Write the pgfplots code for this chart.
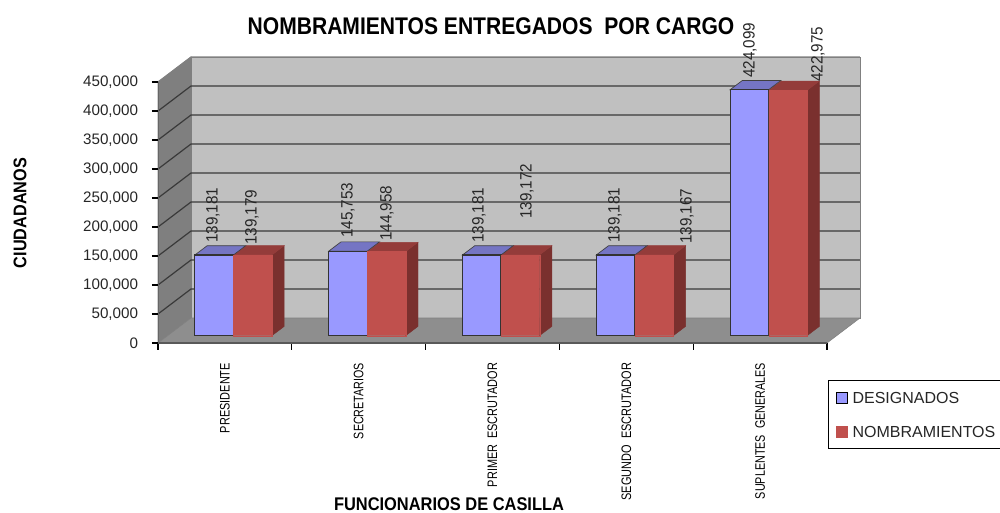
\documentclass[border=0pt]{standalone}
\usepackage{fontspec}
\setmainfont{Liberation Sans}
\usepackage{graphicx}
\usepackage{pgfplots}
\pgfplotsset{compat=1.18}
\definecolor{wallc}{HTML}{C0C0C0}
\definecolor{sidec}{HTML}{7F7F7F}
\definecolor{floorc}{HTML}{8E8E8E}
\definecolor{gridc}{HTML}{3A3A3A}
\definecolor{blu}{HTML}{9999FF}
\definecolor{blutop}{HTML}{7575C4}
\definecolor{redd}{HTML}{C0504D}
\definecolor{redtop}{HTML}{943C3A}
\definecolor{redside}{HTML}{7A302E}
\newcommand\fit[3]{\resizebox{#1pt}{#2pt}{#3}}
\begin{document}
\begin{tikzpicture}
\clip (0pt,0pt) rectangle (750pt,-384.75pt);
\begin{axis}[
  at={(118.5pt,-257.25pt)}, anchor=south west,
  scale only axis, width=501.75pt, height=195.75pt,
  xmin=-0.5, xmax=4.5, ymin=0, ymax=450000,
  clip=false, axis on top,
  axis x line*=bottom, axis y line*=left,
  x axis line style={-, black!65, line width=1.3pt},
  y axis line style={-, black!60, line width=0.6pt},
  tick align=outside,
  tick style={black, line width=0.8pt},
  major tick length=4.5pt,
  minor tick length=5pt,
  xtick={0,1,2,3,4},
  minor xtick={-0.5,0.5,1.5,2.5,3.5,4.5},
  xtick style={draw=none},
  minor x tick style={draw=black, line width=0.8pt},
  xticklabels={
    \fit{52.5}{7.2}{PRESIDENTE},
    \fit{57}{7.2}{SECRETARIOS},
    \fit{93}{7.2}{PRIMER\ \ ESCRUTADOR},
    \fit{103}{7.2}{SEGUNDO\ \ ESCRUTADOR},
    \fit{102}{7.2}{SUPLENTES\ \ GENERALES}},
  x tick label style={rotate=90, anchor=east, yshift=0pt, xshift=-7pt},
  ytick={0,50000,100000,150000,200000,250000,300000,350000,400000,450000},
  scaled y ticks=false,
  yticklabel style={/pgf/number format/1000 sep={,}, /pgf/number format/fixed, /pgf/number format/assume math mode=true,
    font=\fontsize{11.4}{13}\selectfont, text=black!85, inner sep=2pt, xshift=-8.25pt},
  legend style={at={(1.0015,-0.1418)}, anchor=north west, draw=black, line width=0.8pt,
    font=\fontsize{12}{14}\selectfont, row sep=9pt, inner xsep=6pt, inner ysep=4.5pt,
    cells={anchor=west}, text=black!85, fill=white},
]
% back wall, side wall, floor
\addplot[fill=wallc, draw=gray, forget plot] coordinates {(-0.2534,43103) (4.7466,43103) (4.7466,493103) (-0.2534,493103)} --cycle;
\addplot[fill=sidec, draw=sidec, forget plot] coordinates {(-0.5,0) (-0.2534,43103) (-0.2534,493103) (-0.5,450000)} --cycle;
\addplot[fill=floorc, draw=gray, forget plot] coordinates {(-0.5,0) (4.5,0) (4.7466,43103) (-0.2534,43103)} --cycle;
% gridlines
\addplot[gridc, line width=0.9pt, forget plot] coordinates {(-0.5,50000) (-0.2534,93103) (4.7466,93103)};
\addplot[gridc, line width=0.9pt, forget plot] coordinates {(-0.5,100000) (-0.2534,143103) (4.7466,143103)};
\addplot[gridc, line width=0.9pt, forget plot] coordinates {(-0.5,150000) (-0.2534,193103) (4.7466,193103)};
\addplot[gridc, line width=0.9pt, forget plot] coordinates {(-0.5,200000) (-0.2534,243103) (4.7466,243103)};
\addplot[gridc, line width=0.9pt, forget plot] coordinates {(-0.5,250000) (-0.2534,293103) (4.7466,293103)};
\addplot[gridc, line width=0.9pt, forget plot] coordinates {(-0.5,300000) (-0.2534,343103) (4.7466,343103)};
\addplot[gridc, line width=0.9pt, forget plot] coordinates {(-0.5,350000) (-0.2534,393103) (4.7466,393103)};
\addplot[gridc, line width=0.9pt, forget plot] coordinates {(-0.5,400000) (-0.2534,443103) (4.7466,443103)};
\addplot[gray, line width=0.9pt, forget plot] coordinates {(-0.5,450000) (-0.2534,493103) (4.7466,493103)};
\pgfplotsset{
  depth/.style={xshift=6.375pt, yshift=5.475pt, forget plot},
  rs/.style={depth, fill=redside, draw=redside, line width=0.3pt},
  rt/.style={depth, fill=redtop, draw=redtop, line width=0.3pt},
  bt/.style={depth, fill=blutop, draw=black!75, line width=0.5pt},
}
% red sides
\addplot[rs] coordinates {(0.2877,0) (0.3797,16034) (0.3797,155213) (0.2877,139179)} --cycle;
\addplot[rs] coordinates {(1.2877,0) (1.3797,16034) (1.3797,160992) (1.2877,144958)} --cycle;
\addplot[rs] coordinates {(2.2877,0) (2.3797,16034) (2.3797,155206) (2.2877,139172)} --cycle;
\addplot[rs] coordinates {(3.2877,0) (3.3797,16034) (3.3797,155201) (3.2877,139167)} --cycle;
\addplot[rs] coordinates {(4.2877,0) (4.3797,16034) (4.3797,439009) (4.2877,422975)} --cycle;
% red tops
\addplot[rt] coordinates {(0,139179) (0.2877,139179) (0.3797,155213) (0.092,155213)} --cycle;
\addplot[rt] coordinates {(1,144958) (1.2877,144958) (1.3797,160992) (1.092,160992)} --cycle;
\addplot[rt] coordinates {(2,139172) (2.2877,139172) (2.3797,155206) (2.092,155206)} --cycle;
\addplot[rt] coordinates {(3,139167) (3.2877,139167) (3.3797,155201) (3.092,155201)} --cycle;
\addplot[rt] coordinates {(4,422975) (4.2877,422975) (4.3797,439009) (4.092,439009)} --cycle;
% blue tops
\addplot[bt] coordinates {(-0.2877,139181) (0,139181) (0.092,155215) (-0.1957,155215)} --cycle;
\addplot[bt] coordinates {(0.7123,145753) (1,145753) (1.092,161787) (0.8043,161787)} --cycle;
\addplot[bt] coordinates {(1.7123,139181) (2,139181) (2.092,155215) (1.8043,155215)} --cycle;
\addplot[bt] coordinates {(2.7123,139181) (3,139181) (3.092,155215) (2.8043,155215)} --cycle;
\addplot[bt] coordinates {(3.7123,424099) (4,424099) (4.092,440133) (3.8043,440133)} --cycle;
% front faces
\addplot[ybar, bar width=28.875pt, bar shift=-14.44pt, xshift=6.375pt, yshift=5.475pt,
  fill=blu, draw=black!80, line width=0.8pt,
  legend image code/.code={\path[draw=none, fill=none] (0pt,-4pt) rectangle (10pt,4pt);
    \path[overlay, fill=blu, draw=black, line width=0.8pt] (0pt,-8.5pt) rectangle (8pt,-0.5pt);}]
  coordinates {(0,139181) (1,145753) (2,139181) (3,139181) (4,424099)};
\addlegendentry{DESIGNADOS}
\addplot[ybar, bar width=28.875pt, bar shift=14.6pt, xshift=6.375pt, yshift=5.475pt,
  fill=redd, draw=redd, line width=0.2pt,
  legend image code/.code={\path[draw=none, fill=none] (0pt,-4pt) rectangle (10pt,4pt);
    \path[overlay, fill=redd, draw=redd] (0pt,-8.5pt) rectangle (8pt,-0.5pt);}]
  coordinates {(0,139179) (1,144958) (2,139172) (3,139167) (4,422975)};
\addlegendentry{NOMBRAMIENTOS}
\end{axis}
\begin{scope}[x=0.75pt,y=-0.75pt]
% data labels
\tikzset{dl/.style={rotate=90, anchor=west, inner sep=0pt, text=black!85}}
\newcommand\dlab[3]{\node[dl] at (#1,#2) {\fit{41.25}{8.6}{#3}};}
\dlab{213}{243}{139,181}
\dlab{252}{245}{139,179}
\dlab{348}{238}{145,753}
\dlab{387}{241}{144,958}
\dlab{479}{243}{139,181}
\dlab{527}{219}{139,172}
\dlab{615}{243}{139,181}
\dlab{687}{244}{139,167}
\dlab{750}{78}{424,099}
\dlab{818}{82}{422,975}
% titles
\node[inner sep=0pt] at (491,26) {\fit{365}{12.6}{\bfseries NOMBRAMIENTOS ENTREGADOS\ \ POR CARGO}};
\node[inner sep=0pt] at (449,504) {\fit{172.5}{9.6}{\bfseries FUNCIONARIOS DE CASILLA}};
\node[inner sep=0pt, rotate=90] at (20,213) {\fit{82.5}{9.6}{\bfseries CIUDADANOS}};
\end{scope}
\end{tikzpicture}
\end{document}
